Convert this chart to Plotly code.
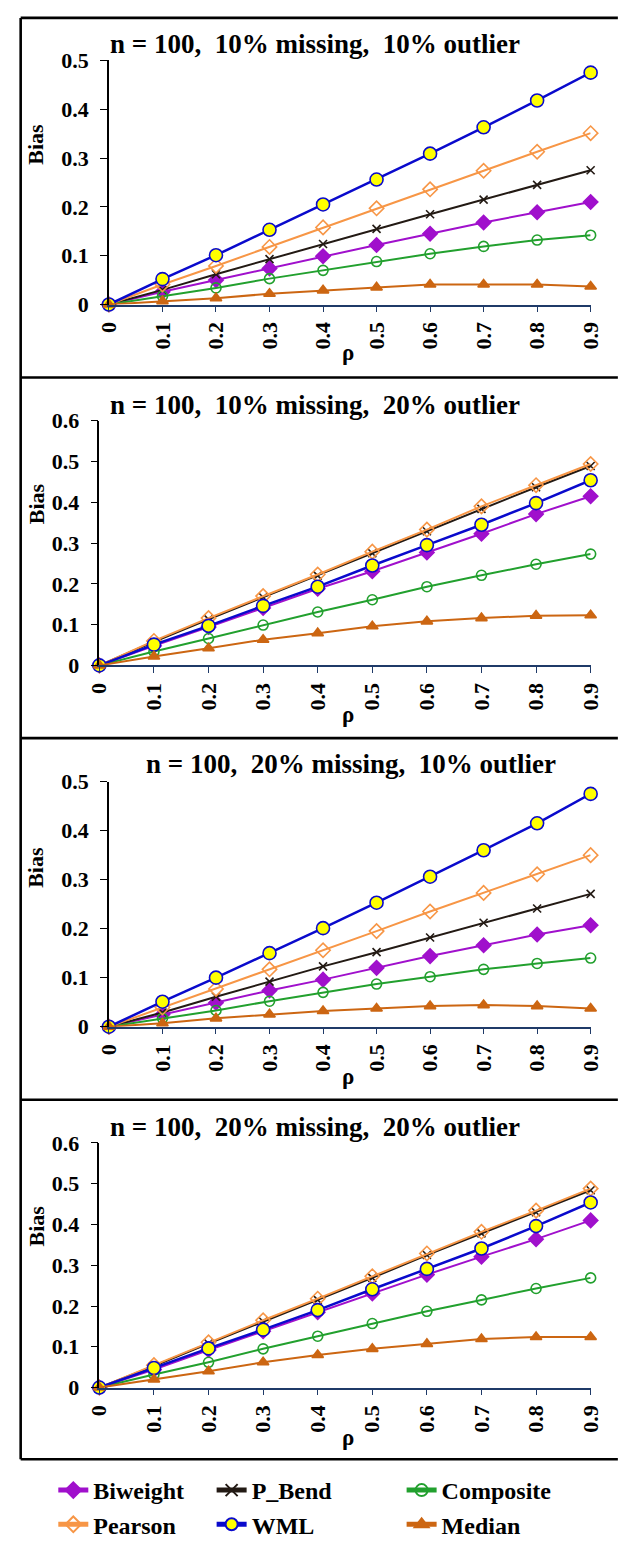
import plotly.graph_objects as go

W, H = 618, 1547

rho = [0, 0.1, 0.2, 0.3, 0.4, 0.5, 0.6, 0.7, 0.8, 0.9]
rho_labels = ["0", "0.1", "0.2", "0.3", "0.4", "0.5", "0.6", "0.7", "0.8", "0.9"]

titles = [
    "n = 100,  10% missing,  10% outlier",
    "n = 100,  10% missing,  20% outlier",
    "n = 100,  20% missing,  10% outlier",
    "n = 100,  20% missing,  20% outlier",
]

# Bias of each estimator, one list per panel
biweight_1 = [0, 0.026, 0.050, 0.074, 0.099, 0.122, 0.145, 0.168, 0.189, 0.210]
pbend_1 = [0, 0.030, 0.062, 0.093, 0.124, 0.155, 0.185, 0.215, 0.245, 0.275]
composite_1 = [0, 0.017, 0.034, 0.053, 0.070, 0.088, 0.104, 0.119, 0.132, 0.142]
pearson_1 = [0, 0.041, 0.079, 0.118, 0.158, 0.197, 0.236, 0.274, 0.313, 0.351]
wml_1 = [0, 0.052, 0.101, 0.153, 0.205, 0.256, 0.309, 0.363, 0.418, 0.475]
median_1 = [0, 0.007, 0.013, 0.022, 0.029, 0.035, 0.041, 0.041, 0.041, 0.037]

biweight_2 = [0, 0.048, 0.094, 0.141, 0.188, 0.231, 0.277, 0.323, 0.371, 0.415]
pbend_2 = [0, 0.058, 0.113, 0.167, 0.220, 0.275, 0.329, 0.384, 0.437, 0.489]
composite_2 = [0, 0.034, 0.066, 0.099, 0.131, 0.161, 0.193, 0.221, 0.248, 0.273]
pearson_2 = [0, 0.060, 0.116, 0.170, 0.223, 0.279, 0.333, 0.390, 0.442, 0.494]
wml_2 = [0, 0.051, 0.097, 0.146, 0.193, 0.245, 0.295, 0.345, 0.398, 0.454]
median_2 = [0, 0.022, 0.042, 0.063, 0.079, 0.096, 0.108, 0.116, 0.122, 0.123]

biweight_3 = [0, 0.025, 0.049, 0.074, 0.096, 0.120, 0.144, 0.166, 0.188, 0.207]
pbend_3 = [0, 0.029, 0.061, 0.092, 0.123, 0.152, 0.182, 0.212, 0.241, 0.271]
composite_3 = [0, 0.017, 0.033, 0.052, 0.070, 0.087, 0.102, 0.117, 0.129, 0.140]
pearson_3 = [0, 0.039, 0.077, 0.117, 0.156, 0.195, 0.235, 0.273, 0.311, 0.350]
wml_3 = [0, 0.051, 0.100, 0.150, 0.201, 0.253, 0.306, 0.360, 0.415, 0.475]
median_3 = [0, 0.007, 0.017, 0.025, 0.032, 0.037, 0.042, 0.044, 0.042, 0.037]

biweight_4 = [0, 0.044, 0.092, 0.138, 0.185, 0.231, 0.277, 0.321, 0.364, 0.410]
pbend_4 = [0, 0.053, 0.108, 0.162, 0.215, 0.269, 0.325, 0.378, 0.430, 0.484]
composite_4 = [0, 0.032, 0.062, 0.095, 0.126, 0.157, 0.187, 0.215, 0.243, 0.269]
pearson_4 = [0, 0.055, 0.111, 0.165, 0.218, 0.273, 0.329, 0.382, 0.434, 0.488]
wml_4 = [0, 0.048, 0.096, 0.142, 0.190, 0.241, 0.291, 0.341, 0.396, 0.454]
median_4 = [0, 0.020, 0.040, 0.062, 0.080, 0.095, 0.107, 0.119, 0.124, 0.124]

panels = [
    dict(Biweight=biweight_1, P_Bend=pbend_1, Composite=composite_1,
         Pearson=pearson_1, WML=wml_1, Median=median_1),
    dict(Biweight=biweight_2, P_Bend=pbend_2, Composite=composite_2,
         Pearson=pearson_2, WML=wml_2, Median=median_2),
    dict(Biweight=biweight_3, P_Bend=pbend_3, Composite=composite_3,
         Pearson=pearson_3, WML=wml_3, Median=median_3),
    dict(Biweight=biweight_4, P_Bend=pbend_4, Composite=composite_4,
         Pearson=pearson_4, WML=wml_4, Median=median_4),
]
y_max = [0.5, 0.6, 0.5, 0.6]

FONT = "Liberation Serif"

# series styling: line colour, marker symbol, marker fill, marker outline, size, legend column
styles = {
    "Biweight": dict(color="#A010CC", symbol="diamond", fill="#A010CC", edge="#A010CC", size=11, lw=2, legend="legend"),
    "P_Bend": dict(color="#231A14", symbol="x-thin", fill="#231A14", edge="#231A14", size=8, lw=2, legend="legend2"),
    "Composite": dict(color="#22A02E", symbol="circle-open", fill="#22A02E", edge="#22A02E", size=10, lw=2, legend="legend3"),
    "Pearson": dict(color="#F79646", symbol="diamond-open", fill="#F79646", edge="#F79646", size=11, lw=2, legend="legend"),
    "WML": dict(color="#0A0ACC", symbol="circle", fill="#FFFF00", edge="#0A0ACC", size=13, lw=2.5, legend="legend2"),
    "Median": dict(color="#CC6612", symbol="triangle-up", fill="#CC6612", edge="#CC6612", size=10, lw=2, legend="legend3"),
}
order = ["Biweight", "P_Bend", "Composite", "Pearson", "WML", "Median"]


def px_x(p):
    return p / W


def px_y(p):
    return 1 - p / H


# plot-area geometry for each panel (pixels): left, right, bottom (y=0), top (y=max)
geom = [
    (100, 602, 297.7, 49.3),
    (90, 602, 665.0, 416.0),
    (100, 602, 1032.7, 783.3),
    (90, 602, 1400.0, 1151.0),
]
title_pos = [(315, 33), (315, 400), (352, 765), (315, 1135)]
bias_pos = [135, 501, 871, 1236]
rho_pos = [347, 715, 1083, 1451]

fig = go.Figure()

for i, data in enumerate(panels):
    ax = "" if i == 0 else str(i + 1)
    for name in order:
        s = styles[name]
        marker = dict(symbol=s["symbol"], size=s["size"], color=s["fill"],
                      line=dict(color=s["edge"], width=1.6))
        fig.add_trace(go.Scatter(
            x=rho, y=data[name], name=name, mode="lines+markers",
            line=dict(color=s["color"], width=s["lw"]),
            marker=marker, cliponaxis=False,
            xaxis="x" + ax, yaxis="y" + ax,
            legend=s["legend"], showlegend=(i == 0),
        ))

    l, r, b, t = geom[i]
    fig.update_layout({
        "xaxis" + ax: dict(
            domain=[px_x(l), px_x(r)], range=[0, 0.9], anchor="y" + ax,
            tickmode="array", tickvals=rho, ticktext=rho_labels, tickangle=-90,
            showline=True, linecolor="#1F3A68", linewidth=1.6,
            ticks="outside", ticklen=6, tickwidth=1.4, tickcolor="#1F3A68",
            showgrid=False, zeroline=False, ticklabelstandoff=1,
            tickfont=dict(family=FONT, size=22, color="black", weight="bold"),
        ),
        "yaxis" + ax: dict(
            domain=[px_y(b), px_y(t)], range=[0, y_max[i]], anchor="x" + ax,
            tickmode="linear", tick0=0, dtick=0.1, tickformat="",
            showline=True, linecolor="black", linewidth=1.6,
            ticks="outside", ticklen=7, tickwidth=1.4, tickcolor="black",
            showgrid=False, zeroline=False, ticklabelstandoff=7,
            tickfont=dict(family=FONT, size=22, color="black", weight="bold"),
        ),
    })

    tx, ty = title_pos[i]
    fig.add_annotation(x=px_x(tx), y=px_y(ty), xref="paper", yref="paper",
                       text="<b>" + titles[i] + "</b>", showarrow=False,
                       xanchor="center", yanchor="middle",
                       font=dict(family=FONT, size=27, color="black"))
    fig.add_annotation(x=px_x(24), y=px_y(bias_pos[i]), xref="paper", yref="paper",
                       text="<b>Bias</b>", showarrow=False, textangle=-90,
                       xanchor="center", yanchor="middle",
                       font=dict(family=FONT, size=22, color="black"))
    fig.add_annotation(x=px_x(349), y=px_y(rho_pos[i]), xref="paper", yref="paper",
                       text="<b>ρ</b>", showarrow=False,
                       xanchor="center", yanchor="middle",
                       font=dict(family=FONT, size=23, color="black"))

# panel frames
frame = dict(color="black", width=2.6)
for yy in [6, 372, 739, 1107, 1473]:
    fig.add_shape(type="line", xref="paper", yref="paper",
                  x0=px_x(8), x1=1.02, y0=px_y(yy), y1=px_y(yy), line=frame)
fig.add_shape(type="line", xref="paper", yref="paper",
              x0=px_x(8), x1=px_x(8), y0=px_y(6), y1=px_y(1473), line=frame)

legend_font = dict(family=FONT, size=24, color="black", weight="bold")
legend_common = dict(orientation="v", xanchor="left", yanchor="top",
                     y=px_y(1482), bgcolor="rgba(0,0,0,0)", font=legend_font,
                     tracegroupgap=0, itemsizing="constant")

fig.update_layout(
    width=W, height=H, autosize=False,
    margin=dict(l=0, r=0, t=0, b=0),
    paper_bgcolor="white", plot_bgcolor="white",
    legend=dict(x=px_x(42), **legend_common),
    legend2=dict(x=px_x(207), **legend_common),
    legend3=dict(x=px_x(405), **legend_common),
)

fig.write_html("out.html")
